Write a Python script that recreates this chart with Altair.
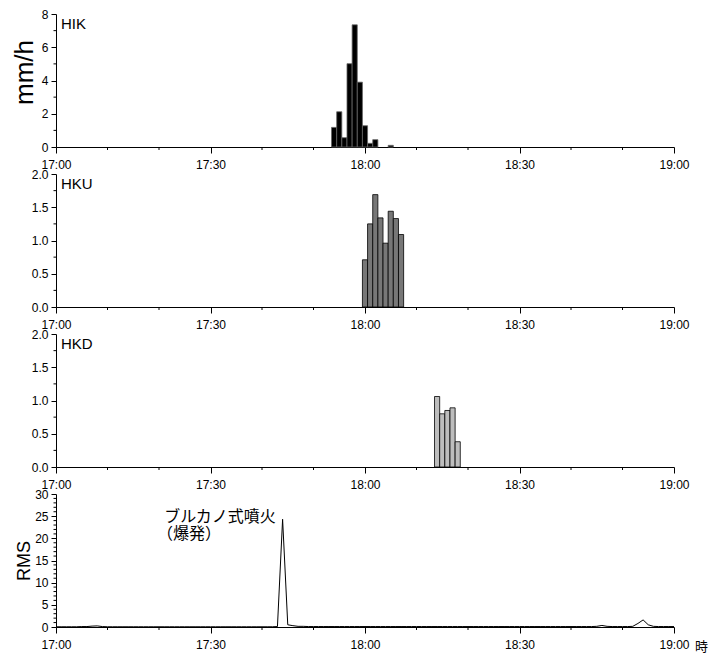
import altair as alt
import pandas as pd

# Time axis: minutes after 17:00, labelled every 30 minutes, minor ticks every 10
TICK_LABELS = ["17:00", "17:30", "18:00", "18:30", "19:00"]
MAJOR_MIN = [0, 30, 60, 90, 120]
MINOR_MIN = [10, 20, 40, 50, 70, 80, 100, 110]

# Rainfall intensity (mm/h), one-minute bins
HIK_TIME = ["17:54", "17:55", "17:56", "17:57", "17:58", "17:59", "18:00", "18:01", "18:02", "18:05"]
HIK_MMH = [1.18, 2.12, 0.56, 5.01, 7.35, 3.90, 1.28, 0.22, 0.44, 0.10]

HKU_TIME = ["18:00", "18:01", "18:02", "18:03", "18:04", "18:05", "18:06", "18:07"]
HKU_MMH = [0.71, 1.25, 1.69, 1.34, 0.96, 1.44, 1.33, 1.09]

HKD_TIME = ["18:14", "18:15", "18:16", "18:17", "18:18"]
HKD_MMH = [1.06, 0.80, 0.85, 0.89, 0.38]

# Seismic RMS amplitude, one sample per minute from 17:00 to 19:00
RMS = [
    0.05, 0.05, 0.05, 0.05, 0.05, 0.10, 0.10, 0.20, 0.25, 0.10,
    0.05, 0.05, 0.05, 0.05, 0.05, 0.05, 0.05, 0.05, 0.05, 0.05,
    0.05, 0.05, 0.05, 0.05, 0.05, 0.05, 0.05, 0.05, 0.05, 0.05,
    0.05, 0.05, 0.05, 0.05, 0.05, 0.05, 0.05, 0.05, 0.05, 0.05,
    0.05, 0.05, 0.05, 0.10, 24.3, 0.50, 0.30, 0.15, 0.15, 0.10,
    0.10, 0.10, 0.10, 0.10, 0.10, 0.10, 0.10, 0.10, 0.10, 0.10,
    0.10, 0.10, 0.10, 0.10, 0.10, 0.10, 0.10, 0.10, 0.10, 0.10,
    0.10, 0.10, 0.10, 0.10, 0.10, 0.10, 0.10, 0.10, 0.10, 0.10,
    0.10, 0.10, 0.10, 0.10, 0.10, 0.10, 0.10, 0.10, 0.10, 0.10,
    0.10, 0.10, 0.10, 0.10, 0.10, 0.10, 0.10, 0.10, 0.10, 0.10,
    0.10, 0.10, 0.10, 0.10, 0.10, 0.15, 0.35, 0.15, 0.10, 0.10,
    0.10, 0.10, 0.15, 0.80, 1.60, 0.50, 0.15, 0.10, 0.10, 0.10,
    0.10,
]
RMS_TICKS = [0, 5, 10, 15, 20, 25, 30]

FONT = "Liberation Sans"
JP_FONT = "Noto Sans CJK JP"
W, H = 618, 133


def to_min(t):
    h, m = map(int, t.split(":"))
    return (h - 17) * 60 + m


def bar_frame(times, values):
    mins = [to_min(t) for t in times]
    return pd.DataFrame({
        "start": [m - 0.5 for m in mins],
        "end": [m + 0.5 for m in mins],
        "v": values,
    })


label_expr = "[" + ",".join(f"'{t}'" for t in TICK_LABELS) + "][round(datum.value / 30)]"
x_scale = alt.Scale(domain=[0, 120], nice=False, zero=False)


def x_axis():
    return alt.Axis(values=MAJOR_MIN, labelExpr=label_expr, orient="bottom",
                    tickSize=6, labelPadding=6, grid=False, title=None,
                    labelFlush=False, labelOverlap=False)


def y_axis(vals, fmt, title=None, title_size=12, title_pad=4, title_y=None):
    kw = dict(values=vals, format=fmt, orient="left", tickSize=5, labelPadding=3,
              grid=False, labelOverlap=False, labelFlush=False)
    if title:
        kw.update(title=title, titleFontSize=title_size, titlePadding=title_pad,
                  titleFontWeight="normal", titleFont=FONT)
        if title_y is not None:
            kw.update(titleY=title_y)
    else:
        kw.update(title=None)
    return alt.Axis(**kw)


def minor_ticks(y_scale, y_minor, yax):
    """Short unlabelled ticks between the labelled ones, on both axes."""
    xt = alt.Chart(pd.DataFrame({"t": MINOR_MIN})).mark_rule(
        color="black", strokeWidth=1
    ).encode(x=alt.X("t:Q", scale=x_scale, axis=x_axis()),
             y=alt.value(H), y2=alt.value(H + 3))
    yt = alt.Chart(pd.DataFrame({"t": y_minor})).mark_rule(
        color="black", strokeWidth=1
    ).encode(y=alt.Y("t:Q", scale=y_scale, axis=yax),
             x=alt.value(0), x2=alt.value(-2.5))
    return [xt, yt]


def station_label(name):
    return alt.Chart(pd.DataFrame({"t": [name]})).mark_text(
        align="left", baseline="alphabetic", font=FONT, fontSize=15, color="black"
    ).encode(x=alt.value(5), y=alt.value(15), text="t:N")


def rain_panel(times, values, fill, stroke, name, ymax, ymajor, yminor, fmt,
               title=None, title_y=None):
    df = bar_frame(times, values)
    ys = alt.Scale(domain=[0, ymax], nice=False)
    yax = y_axis(ymajor, fmt, title, 26, 4, title_y)
    bars = alt.Chart(df).mark_bar(fill=fill, stroke=stroke, strokeWidth=0.8).encode(
        x=alt.X("start:Q", scale=x_scale, axis=x_axis()),
        x2="end:Q",
        y=alt.Y("v:Q", scale=ys, axis=yax),
        y2=alt.datum(0),
    )
    return alt.layer(bars, *minor_ticks(ys, yminor, yax), station_label(name)).properties(
        width=W, height=H
    )


p1 = rain_panel(HIK_TIME, HIK_MMH, "black", "#666666", "HIK", 8, [0, 2, 4, 6, 8],
                [1, 3, 5, 7], "d", title="mm/h", title_y=58)
p2 = rain_panel(HKU_TIME, HKU_MMH, "#777777", "black", "HKU", 2, [0, 0.5, 1, 1.5, 2],
                [0.25, 0.75, 1.25, 1.75], ".1f")
p3 = rain_panel(HKD_TIME, HKD_MMH, "#bdbdbd", "black", "HKD", 2, [0, 0.5, 1, 1.5, 2],
                [0.25, 0.75, 1.25, 1.75], ".1f")

rms_df = pd.DataFrame({"m": list(range(len(RMS))), "rms": RMS})
rms_scale = alt.Scale(domain=[0, 30], nice=False)
rms_yax = y_axis(RMS_TICKS, "d", "RMS", 18, 1)
rms_line = alt.Chart(rms_df).mark_line(color="black", strokeWidth=1).encode(
    x=alt.X("m:Q", scale=x_scale, axis=x_axis()),
    y=alt.Y("rms:Q", scale=rms_scale, axis=rms_yax),
)
rms_minor_vals = [v for v in range(1, 30) if v % 5]


def note(text, xm, yv):
    # Annotation placed in data space of the RMS panel
    return alt.Chart(pd.DataFrame({"t": [text]})).mark_text(
        align="left", baseline="alphabetic", font=JP_FONT, fontSize=16, color="black"
    ).encode(
        x=alt.XDatum(xm, scale=x_scale, axis=x_axis()),
        y=alt.YDatum(yv, scale=rms_scale, axis=rms_yax),
        text="t:N",
    )


note1 = note("ブルカノ式噴火", 21.0, 23.6)
note2 = note("（爆発）", 19.6, 19.8)
unit = alt.Chart(pd.DataFrame({"t": ["時"]})).mark_text(
    align="left", baseline="alphabetic", font=JP_FONT, fontSize=13, color="black"
).encode(x=alt.value(639), y=alt.value(157), text="t:N")

p4 = alt.layer(rms_line, *minor_ticks(rms_scale, rms_minor_vals, rms_yax),
               note1, note2, unit).properties(width=W, height=H)

chart = alt.vconcat(p1, p2, p3, p4, spacing=27, bounds="flush").properties(
    padding={"left": 11, "top": 8, "right": 0, "bottom": 0},
    background="white",
).configure_view(strokeWidth=0, stroke="transparent").configure_axis(
    labelFont=FONT, labelFontSize=12, labelColor="black",
    domainColor="black", tickColor="black", domainWidth=1, tickWidth=1,
    titleColor="black",
)

chart.save("out.html", embed_options={"renderer": "svg", "actions": False})
